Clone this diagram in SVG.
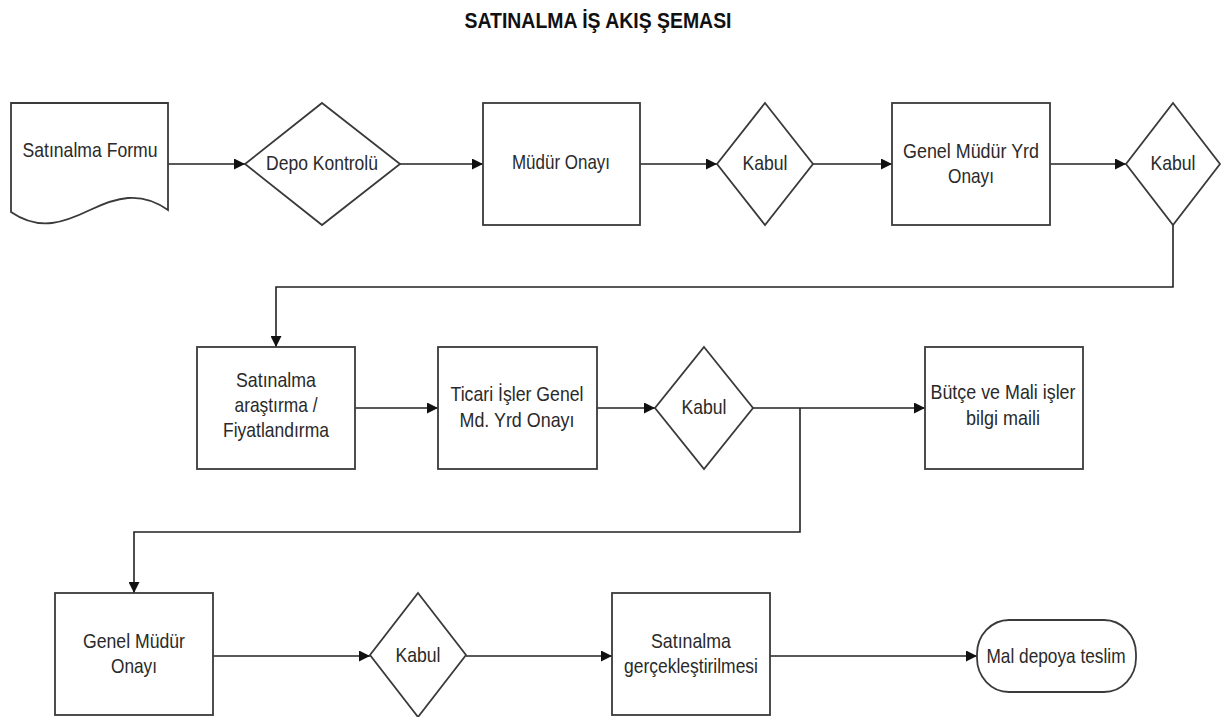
<svg xmlns="http://www.w3.org/2000/svg" width="1222" height="717" viewBox="0 0 1222 717">
  <style>
    .shape { fill: #ffffff; stroke: #3a3a3a; stroke-width: 1.8; }
    .line { fill: none; stroke: #222222; stroke-width: 1.6; }
    .lbl { font-family: "Liberation Sans", Arial, sans-serif; font-size: 21px; fill: #2a2a2a; text-anchor: middle; }
    .title { font-family: "Liberation Sans", Arial, sans-serif; font-size: 22px; font-weight: bold; fill: #111111; text-anchor: middle; }
  </style>
  <defs>
    <marker id="arrow" viewBox="0 0 10 10" refX="10" refY="5" markerWidth="11" markerHeight="11" markerUnits="userSpaceOnUse" orient="auto">
      <path d="M0,0 L10,5 L0,10 z" fill="#111111"/>
    </marker>
  </defs>

  <rect width="1222" height="717" fill="#ffffff"/>

  <text class="title" x="598" y="28" textLength="267" lengthAdjust="spacingAndGlyphs">SATINALMA İŞ AKIŞ ŞEMASI</text>

  <!-- connectors -->
  <g id="connectors">
    <line class="line" x1="168" y1="164" x2="245" y2="164" marker-end="url(#arrow)"/>
    <line class="line" x1="400" y1="164" x2="483" y2="164" marker-end="url(#arrow)"/>
    <line class="line" x1="640" y1="164" x2="717" y2="164" marker-end="url(#arrow)"/>
    <line class="line" x1="813" y1="164" x2="892" y2="164" marker-end="url(#arrow)"/>
    <line class="line" x1="1050" y1="164" x2="1126" y2="164" marker-end="url(#arrow)"/>
    <path class="line" d="M1173,225 V287 H276 V347" marker-end="url(#arrow)"/>
    <line class="line" x1="355" y1="408" x2="438" y2="408" marker-end="url(#arrow)"/>
    <line class="line" x1="597" y1="408" x2="655" y2="408" marker-end="url(#arrow)"/>
    <line class="line" x1="753" y1="408" x2="925" y2="408" marker-end="url(#arrow)"/>
    <path class="line" d="M800,408 V532 H134 V593" marker-end="url(#arrow)"/>
    <line class="line" x1="213" y1="656" x2="370" y2="656" marker-end="url(#arrow)"/>
    <line class="line" x1="466" y1="656" x2="612" y2="656" marker-end="url(#arrow)"/>
    <line class="line" x1="770" y1="656" x2="977" y2="656" marker-end="url(#arrow)"/>
  </g>

  <!-- row 1 -->
  <g id="satinalma-formu">
    <path class="shape" d="M11,103 H168 V210 C140,190 115,198 90,210 C65,222 40,232 11,212 Z"/>
    <text class="lbl" x="90" y="157" textLength="135" lengthAdjust="spacingAndGlyphs">Satınalma Formu</text>
  </g>
  <g id="depo-kontrolu">
    <polygon class="shape" points="322,103 400,164 322,225 245,164"/>
    <text class="lbl" x="322" y="170" textLength="112" lengthAdjust="spacingAndGlyphs">Depo Kontrolü</text>
  </g>
  <g id="mudur-onayi">
    <rect class="shape" x="483" y="103" width="157" height="122"/>
    <text class="lbl" x="561" y="169" textLength="98" lengthAdjust="spacingAndGlyphs">Müdür Onayı</text>
  </g>
  <g id="kabul-1">
    <polygon class="shape" points="765,103 813,164 765,225 717,164"/>
    <text class="lbl" x="765" y="170" textLength="45" lengthAdjust="spacingAndGlyphs">Kabul</text>
  </g>
  <g id="genel-mudur-yrd-onayi">
    <rect class="shape" x="892" y="103" width="158" height="122"/>
    <text class="lbl" x="971" y="158" textLength="136" lengthAdjust="spacingAndGlyphs">Genel Müdür Yrd</text>
    <text class="lbl" x="971" y="183" textLength="46" lengthAdjust="spacingAndGlyphs">Onayı</text>
  </g>
  <g id="kabul-2">
    <polygon class="shape" points="1173,103 1220,164 1173,225 1126,164"/>
    <text class="lbl" x="1173" y="170" textLength="45" lengthAdjust="spacingAndGlyphs">Kabul</text>
  </g>

  <!-- row 2 -->
  <g id="satinalma-arastirma">
    <rect class="shape" x="197" y="347" width="158" height="122"/>
    <text class="lbl" x="276" y="387" textLength="80" lengthAdjust="spacingAndGlyphs">Satınalma</text>
    <text class="lbl" x="276" y="412" textLength="83" lengthAdjust="spacingAndGlyphs">araştırma /</text>
    <text class="lbl" x="276" y="437" textLength="106" lengthAdjust="spacingAndGlyphs">Fiyatlandırma</text>
  </g>
  <g id="ticari-isler-onayi">
    <rect class="shape" x="438" y="347" width="159" height="122"/>
    <text class="lbl" x="517" y="401" textLength="133" lengthAdjust="spacingAndGlyphs">Ticari İşler Genel</text>
    <text class="lbl" x="517" y="427" textLength="115" lengthAdjust="spacingAndGlyphs">Md. Yrd Onayı</text>
  </g>
  <g id="kabul-3">
    <polygon class="shape" points="704,347 753,408 704,469 655,408"/>
    <text class="lbl" x="704" y="414" textLength="45" lengthAdjust="spacingAndGlyphs">Kabul</text>
  </g>
  <g id="butce-mali-isler">
    <rect class="shape" x="925" y="347" width="158" height="122"/>
    <text class="lbl" x="1003" y="399" textLength="145" lengthAdjust="spacingAndGlyphs">Bütçe ve Mali işler</text>
    <text class="lbl" x="1003" y="425" textLength="74" lengthAdjust="spacingAndGlyphs">bilgi maili</text>
  </g>

  <!-- row 3 -->
  <g id="genel-mudur-onayi">
    <rect class="shape" x="55" y="593" width="158" height="122"/>
    <text class="lbl" x="134" y="648" textLength="102" lengthAdjust="spacingAndGlyphs">Genel Müdür</text>
    <text class="lbl" x="134" y="673" textLength="46" lengthAdjust="spacingAndGlyphs">Onayı</text>
  </g>
  <g id="kabul-4">
    <polygon class="shape" points="418,593 466,655 418,717 370,655"/>
    <text class="lbl" x="418" y="662" textLength="45" lengthAdjust="spacingAndGlyphs">Kabul</text>
  </g>
  <g id="satinalma-gerceklestirilmesi">
    <rect class="shape" x="612" y="593" width="158" height="122"/>
    <text class="lbl" x="691" y="648" textLength="80" lengthAdjust="spacingAndGlyphs">Satınalma</text>
    <text class="lbl" x="691" y="673" textLength="134" lengthAdjust="spacingAndGlyphs">gerçekleştirilmesi</text>
  </g>
  <g id="mal-depoya-teslim">
    <rect class="shape" x="977" y="620" width="159" height="72" rx="32" ry="34"/>
    <text class="lbl" x="1056" y="663" textLength="139" lengthAdjust="spacingAndGlyphs">Mal depoya teslim</text>
  </g>
</svg>
